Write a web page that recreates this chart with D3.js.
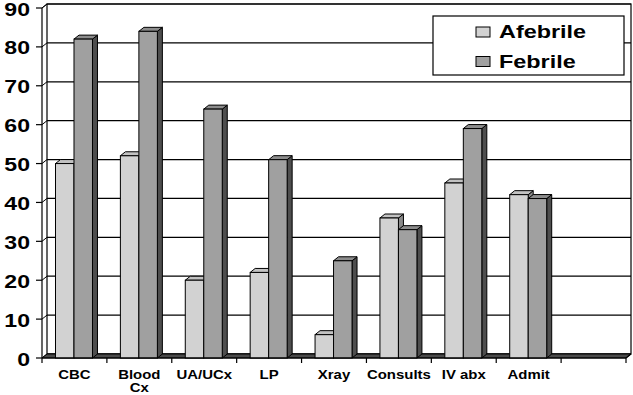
<!DOCTYPE html>
<html><head><meta charset="utf-8">
<script src="https://cdn.jsdelivr.net/npm/d3@7"></script>
<style>body{margin:0;background:#fff}svg{display:block}text{font-family:"Liberation Sans",Arial,sans-serif;font-weight:bold;fill:#000}</style>
</head><body>
<svg id="c" width="633" height="395"></svg>
<script>
const categories = ["CBC","Blood Cx","UA/UCx","LP","Xray","Consults","IV abx","Admit",""];
const afebrile = [50,52,20,22,6,36,45,42];
const febrile  = [82,84,64,51,25,33,59,41];
const seriesNames = ["Afebrile","Febrile"];
const yTicks = [0,10,20,30,40,50,60,70,80,90];

(function(){
const svg = d3.select("#c");
const DX = 5, DY = -4;
const pLeft = 42, pRight = 626, pBottom = 358, pTop = 8;
const y = d3.scaleLinear().domain([0,90]).range([pBottom, pTop]);
const x = d3.scaleBand().domain(categories).range([pLeft, pRight]).padding(0);
const bw = x.bandwidth();
const x1 = d3.scaleBand().domain(seriesNames).range([bw*0.208, bw*0.778]).padding(0);
const colors = {Afebrile:{front:"#d2d2d2", top:"#c2c2c2", side:"#8a8a8a"},
                Febrile:{front:"#a0a0a0", top:"#8c8c8c", side:"#4e4e4e"}};
const pts = a => a.map(p=>p.join(",")).join(" ");

const g = svg.append("g");
// back wall
g.append("rect").attr("x", pLeft+DX).attr("y", pTop+DY).attr("width", pRight-pLeft).attr("height", pBottom-pTop)
  .attr("fill","#fff").attr("stroke","#000").attr("stroke-width",1.2);
// gridlines
yTicks.forEach(t => {
  const yy = y(t);
  g.append("line").attr("x1", pLeft+DX).attr("x2", pRight+DX).attr("y1", yy+DY).attr("y2", yy+DY)
    .attr("stroke","#000").attr("stroke-width",1.2);
  g.append("line").attr("x1", pLeft).attr("x2", pLeft+DX).attr("y1", yy).attr("y2", yy+DY)
    .attr("stroke","#000").attr("stroke-width",1);
});
// floor
g.append("polygon")
  .attr("points", pts([[pLeft,pBottom],[pRight,pBottom],[pRight+DX,pBottom+DY],[pLeft+DX,pBottom+DY]]))
  .attr("fill","#4a4a4a").attr("stroke","#000").attr("stroke-width",1);

// bars
const y0 = y(0);
categories.forEach((c,i) => {
  if (i >= afebrile.length) return;
  const vals = {Afebrile: afebrile[i], Febrile: febrile[i]};
  seriesNames.forEach(s => {
    const v = vals[s];
    const bx = x(c) + x1(s), w = x1.bandwidth(), yv = y(v);
    const col = colors[s];
    const bg = g.append("g");
    bg.append("polygon").attr("points", pts([[bx+w,yv],[bx+w+DX,yv+DY],[bx+w+DX,y0+DY],[bx+w,y0]]))
      .attr("fill", col.side).attr("stroke","#000").attr("stroke-width",1).attr("stroke-linejoin","round");
    bg.append("polygon").attr("points", pts([[bx,yv],[bx+DX,yv+DY],[bx+w+DX,yv+DY],[bx+w,yv]]))
      .attr("fill", col.top).attr("stroke","#000").attr("stroke-width",1).attr("stroke-linejoin","round");
    bg.append("rect").attr("x", bx).attr("y", yv).attr("width", w).attr("height", y0-yv)
      .attr("fill", col.front).attr("stroke","#000").attr("stroke-width",1);
  });
});

// front axes
g.append("line").attr("x1",pLeft).attr("x2",pLeft).attr("y1",y(90)).attr("y2",pBottom).attr("stroke","#000").attr("stroke-width",1.2);
g.append("line").attr("x1",pLeft).attr("x2",pLeft+DX).attr("y1",y(90)).attr("y2",y(90)+DY).attr("stroke","#000").attr("stroke-width",1);
g.append("line").attr("x1",pLeft).attr("x2",pRight).attr("y1",pBottom).attr("y2",pBottom).attr("stroke","#000").attr("stroke-width",1.2);
g.append("line").attr("x1",pRight).attr("x2",pRight+DX).attr("y1",pBottom).attr("y2",pBottom+DY).attr("stroke","#000").attr("stroke-width",1.2);

// y ticks & labels
yTicks.forEach(t => {
  g.append("line").attr("x1",pLeft-6).attr("x2",pLeft).attr("y1",y(t)).attr("y2",y(t)).attr("stroke","#000").attr("stroke-width",1.2);
  g.append("g").attr("transform",`translate(30,${y(t)+7.5}) scale(1.32,1)`)
    .append("text").attr("text-anchor","end").attr("font-size",17.5).text(t);
});
// x ticks & labels
const bounds = categories.map(c => x(c)).concat([pRight]);
bounds.forEach(bx => {
  g.append("line").attr("x1",bx).attr("x2",bx).attr("y1",pBottom).attr("y2",pBottom+5).attr("stroke","#000").attr("stroke-width",1.2);
});
categories.forEach(c => {
  const lines = c === "Blood Cx" ? ["Blood","Cx"] : [c];
  const tg = g.append("g").attr("transform",`translate(${x(c)+bw/2},378.5) scale(1.15,1)`);
  lines.forEach((l,k) => tg.append("text").attr("text-anchor","middle").attr("font-size",13).attr("y",k*13.5).text(l));
});

// legend
const lg = g.append("g");
lg.append("rect").attr("x",433).attr("y",16).attr("width",191).attr("height",59).attr("fill","#fff").attr("stroke","#000").attr("stroke-width",1.2);
seriesNames.forEach((s,k) => {
  const yy = 27 + k*29.5;
  lg.append("rect").attr("x",476).attr("y",yy).attr("width",14).attr("height",10)
    .attr("fill",colors[s].front).attr("stroke","#000").attr("stroke-width",1);
  lg.append("g").attr("transform",`translate(499,${yy+11}) scale(1.3,1)`)
    .append("text").attr("font-size",18).text(s);
});
})();
</script>
</body></html>
